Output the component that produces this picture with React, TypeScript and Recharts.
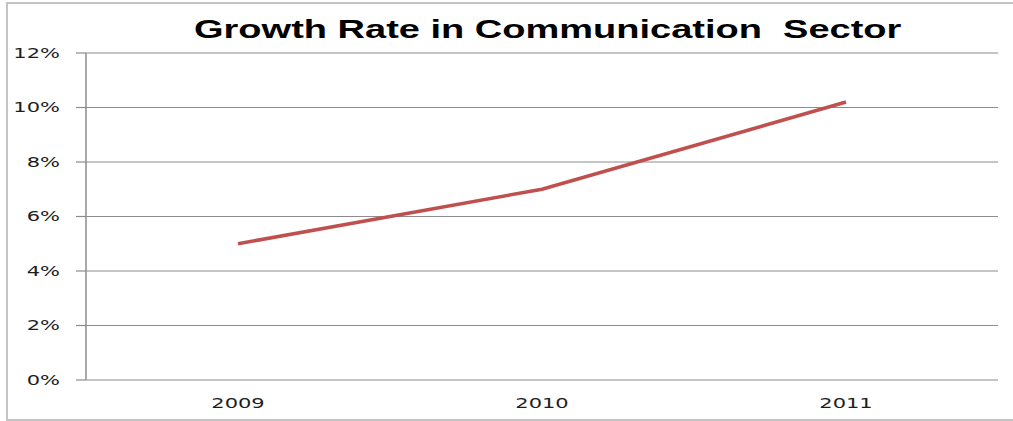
import React from "react";
import { LineChart, Line, XAxis, YAxis, CartesianGrid } from "recharts";

const categories = ["2009", "2010", "2011"];
const growthRate = [5, 7, 10.2];
const yTicks = [0, 2, 4, 6, 8, 10, 12];
const title = "Growth Rate in Communication  Sector";

const data = categories.map((c, i) => ({ pos: i + 0.5, value: growthRate[i], label: c }));
const labelTicks = categories.map((_, i) => i + 0.5);
const boundaryTicks = categories.map((_, i) => i).concat([categories.length]);

const font = "'DejaVu Sans', sans-serif";
const STRETCH = 1.5;

function YTick(props: any) {
  const { x, y, payload } = props;
  return (
    <text
      x={x}
      y={y}
      dy={5}
      textAnchor="end"
      fill="#1e1e1e"
      fontSize={14}
      fontFamily={font}
      transform={`translate(${x},0) scale(${STRETCH},1) translate(${-x},0)`}
    >
      {`${payload.value}%`}
    </text>
  );
}

function XTick(props: any) {
  const { x, y, payload } = props;
  return (
    <text
      x={x}
      y={y}
      dy={12}
      textAnchor="middle"
      fill="#1e1e1e"
      fontSize={14}
      fontFamily={font}
      transform={`translate(${x},0) scale(${STRETCH},1) translate(${-x},0)`}
    >
      {categories[Math.floor(payload.value)]}
    </text>
  );
}

export default function App() {
  return (
    <div style={{ position: "absolute", left: 0, top: 0, width: 1013, height: 421, overflow: "hidden", background: "#fff" }}>
      <div style={{ position: "absolute", left: 6, top: 2, width: 1040, height: 415, border: "2px solid #c4c4c4" }} />
      <div
        style={{
          position: "absolute",
          left: 0,
          width: 1096,
          top: 14,
          textAlign: "center",
          fontFamily: "'Liberation Sans', sans-serif",
          fontWeight: "bold",
          fontSize: 25,
          color: "#000",
          whiteSpace: "pre",
          lineHeight: "30px",
        }}
      >
        <span style={{ display: "inline-block", transform: "scaleX(1.52)", transformOrigin: "center" }}>{title}</span>
      </div>
      <div style={{ position: "absolute", left: 0, top: 0 }}>
        <LineChart width={1013} height={421} data={data} margin={{ top: 53, right: 15, bottom: 0, left: 0 }}>
          <CartesianGrid horizontal vertical={false} stroke="#8c8c8c" strokeWidth={1.2} />
          <XAxis
            xAxisId="lab"
            dataKey="pos"
            type="number"
            domain={[0, categories.length]}
            ticks={labelTicks}
            axisLine={false}
            tickLine={false}
            height={41}
            tickMargin={10}
            tick={<XTick />}
          />
          <XAxis
            xAxisId="bnd"
            dataKey="pos"
            type="number"
            domain={[0, categories.length]}
            ticks={boundaryTicks}
            tick={false}
            axisLine={{ stroke: "#8c8c8c", strokeWidth: 1.5 }}
            tickLine={{ stroke: "#8c8c8c", strokeWidth: 1.5 }}
            tickSize={5}
            height={0}
          />
          <YAxis
            domain={[0, 12]}
            ticks={yTicks}
            width={86}
            axisLine={{ stroke: "#8c8c8c", strokeWidth: 1.5 }}
            tickLine={{ stroke: "#8c8c8c", strokeWidth: 1.2 }}
            tickSize={10}
            tickMargin={16}
            tick={<YTick />}
          />
          <Line
            xAxisId="lab"
            type="linear"
            dataKey="value"
            stroke="#c0504d"
            strokeWidth={3.5}
            dot={false}
            isAnimationActive={false}
          />
        </LineChart>
      </div>
    </div>
  );
}
